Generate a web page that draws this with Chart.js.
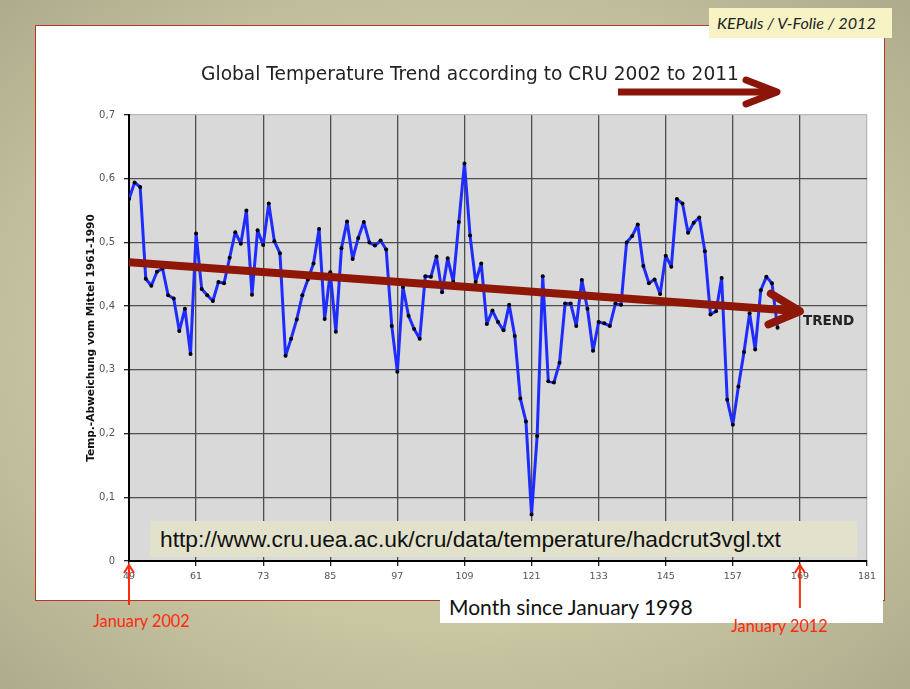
<!DOCTYPE html>
<html>
<head>
<meta charset="utf-8">
<script src="https://cdn.jsdelivr.net/npm/chart.js@4"></script>
<style>
  body {
    margin: 0;
    width: 910px;
    height: 689px;
    overflow: hidden;
    position: relative;
    background: radial-gradient(ellipse 75% 75% at 50% 50%, #d5d3ae 0%, #c9c7a2 55%, #a9a789 100%);
    font-family: Lato, 'DejaVu Sans', sans-serif;
  }
  #panel {
    position: absolute; left: 35px; top: 25px; width: 848px; height: 574px;
    background: #fff; border: 1.5px solid #b5362c;
  }
  #monthBox {
    position: absolute; left: 440px; top: 591px; width: 434px; height: 32px;
    background: #fff; padding-left: 9px;
    font-size: 21px; line-height: 32px; color: #111;
  }
  .jan {
    position: absolute; font-size: 16.3px; color: #ff2a10;
  }
  #myChart { position: absolute; left: 0; top: 0; }
  #urlBox {
    position: absolute; left: 150px; top: 521px; width: 697px; height: 36px;
    background: #e2e2cc; padding-left: 10px;
    font-family: 'Liberation Sans', Arial, sans-serif; font-size: 22.8px; line-height: 37px; color: #111;
  }
  #title {
    position: absolute; left: 0; width: 940px; top: 63px; text-align: center;
    font-family: 'DejaVu Sans', sans-serif; font-size: 18.6px; line-height: 22px; color: #222;
  }
  #tag {
    position: absolute; left: 709px; top: 8px; width: 175px; height: 30px;
    background: #f7f3c4; padding-left: 8px;
    font-style: italic; font-size: 16.2px; line-height: 30px; color: #222;
  }
  #trendLabel {
    position: absolute; left: 803px; top: 312px;
    font-family: 'DejaVu Sans', sans-serif; font-weight: bold; font-size: 13.5px; color: #222;
  }
</style>
</head>
<body>
<div id="panel"></div>
<div id="monthBox">Month since January 1998</div>
<div class="jan" style="left:93px; top:611px;">January 2002</div>
<div class="jan" style="left:731px; top:616px;">January 2012</div>
<canvas id="myChart" width="910" height="689"></canvas>
<div id="urlBox">http://www.cru.uea.ac.uk/cru/data/temperature/hadcrut3vgl.txt</div>
<div id="title">Global Temperature Trend according to CRU 2002 to 2011</div>
<svg style="position:absolute; left:0; top:0;" width="910" height="120">
  <line x1="618" y1="92" x2="774" y2="92" stroke="#8b1508" stroke-width="7"/>
  <polyline points="746,80 777,92 746,104" fill="none" stroke="#8b1508" stroke-width="7" stroke-linecap="round" stroke-linejoin="round"/>
</svg>
<div id="tag">KEPuls / V-Folie / 2012</div>
<div id="trendLabel">TREND</div>

<script>
// month 49 = January 2002 (months counted since January 1998)
let firstMonth = 49;
let temps = [
    0.568, 0.594, 0.587, 0.443, 0.432, 0.454, 0.459, 0.417, 0.412, 0.361, 0.396, 0.325,
    0.514, 0.427, 0.417, 0.408, 0.438, 0.436, 0.476, 0.516, 0.498, 0.550, 0.418, 0.519,
    0.496, 0.561, 0.502, 0.483, 0.322, 0.349, 0.379, 0.417, 0.442, 0.467, 0.521, 0.380,
    0.453, 0.360, 0.491, 0.533, 0.474, 0.507, 0.532, 0.500, 0.495, 0.503, 0.489, 0.369,
    0.297, 0.430, 0.385, 0.364, 0.349, 0.447, 0.446, 0.478, 0.422, 0.475, 0.438, 0.532,
    0.624, 0.511, 0.438, 0.467, 0.372, 0.393, 0.375, 0.362, 0.402, 0.353, 0.255, 0.219,
    0.073, 0.196, 0.447, 0.282, 0.280, 0.311, 0.404, 0.404, 0.369, 0.441, 0.396, 0.330,
    0.375, 0.373, 0.369, 0.404, 0.402, 0.500, 0.510, 0.528, 0.463, 0.436, 0.442, 0.419,
    0.479, 0.462, 0.568, 0.561, 0.515, 0.531, 0.539, 0.486, 0.387, 0.392, 0.444, 0.253,
    0.214, 0.274, 0.328, 0.389, 0.332, 0.425, 0.446, 0.436, 0.366
];
let trendMonths = [49, 169];
let trendValues = [0.469, 0.392];
let markerMonths = [49, 169];
let xTicks = [49, 61, 73, 85, 97, 109, 121, 133, 145, 157, 169, 181];
let yTicks = [0, 0.1, 0.2, 0.3, 0.4, 0.5, 0.6, 0.7];

let points = [];
for (let i = 0; i < temps.length; i++) {
    points.push({ x: firstMonth + i, y: temps[i] });
}
let trendPoints = [];
for (let i = 0; i < trendMonths.length; i++) {
    trendPoints.push({ x: trendMonths[i], y: trendValues[i] });
}

let trendRed = '#8e1708';

let slidePlugin = {
    id: 'slide',
    beforeDraw(chart) {
        let a = chart.chartArea;
        let ctx = chart.ctx;
        ctx.save();
        ctx.fillStyle = '#d9d9d9';
        ctx.fillRect(a.left, a.top, a.right - a.left, a.bottom - a.top);
        ctx.restore();
    },
    afterDatasetsDraw(chart) {
        // arrow head on the trend line
        let meta = chart.getDatasetMeta(0);
        let p0 = meta.data[0];
        let p1 = meta.data[meta.data.length - 1];
        let ang = Math.atan2(p1.y - p0.y, p1.x - p0.x);
        let len = 34;
        let spread = 0.47;
        let ctx = chart.ctx;
        ctx.save();
        ctx.strokeStyle = trendRed;
        ctx.lineWidth = 8;
        ctx.lineCap = 'round';
        ctx.lineJoin = 'round';
        ctx.beginPath();
        ctx.moveTo(p1.x - len * Math.cos(ang - spread), p1.y - len * Math.sin(ang - spread));
        ctx.lineTo(p1.x, p1.y);
        ctx.lineTo(p1.x - len * Math.cos(ang + spread), p1.y - len * Math.sin(ang + spread));
        ctx.stroke();
        ctx.restore();
    },
    afterDraw(chart) {
        // red markers for January 2002 / January 2012
        let ctx = chart.ctx;
        let xs = chart.scales.x;
        let bottom = chart.chartArea.bottom;
        ctx.save();
        ctx.strokeStyle = '#ff2a10';
        ctx.lineWidth = 2;
        for (let i = 0; i < markerMonths.length; i++) {
            let x = xs.getPixelForValue(markerMonths[i]);
            let tip = bottom + 4;
            ctx.beginPath();
            ctx.moveTo(x, tip + 40 + i * 3);
            ctx.lineTo(x, tip);
            ctx.stroke();
            ctx.beginPath();
            ctx.moveTo(x - 5, tip + 8);
            ctx.lineTo(x, tip);
            ctx.lineTo(x + 5, tip + 8);
            ctx.stroke();
        }
        ctx.restore();
    }
};

function edgeColor(ctx, edgeValue) {
    if (ctx.tick && Math.abs(ctx.tick.value - edgeValue) < 1e-9) {
        return '#b8b8b8';
    }
    return '#4e4e4e';
}

let ctx = document.getElementById('myChart').getContext('2d');
let myChart = new Chart(ctx, {
    type: 'line',
    data: {
        datasets: [{
            label: 'Trend',
            data: trendPoints,
            borderColor: trendRed,
            borderWidth: 8,
            pointRadius: 0,
            order: 0
        }, {
            label: 'Temp.-Abweichung',
            data: points,
            borderColor: '#1e2cff',
            borderWidth: 3,
            borderJoinStyle: 'round',
            pointRadius: 2,
            pointBackgroundColor: '#000',
            pointBorderWidth: 0,
            tension: 0,
            order: 1
        }]
    },
    options: {
        responsive: false,
        animation: false,
        events: [],
        layout: {
            padding: { left: 81, top: 115, right: 43, bottom: 98 }
        },
        plugins: {
            legend: { display: false },
            tooltip: { enabled: false }
        },
        scales: {
            x: {
                type: 'linear',
                min: 49,
                max: 181,
                afterBuildTicks(scale) {
                    scale.ticks = xTicks.map(v => ({ value: v }));
                },
                afterFit(scale) {
                    scale.height = 30;
                },
                grid: {
                    color: ctx => edgeColor(ctx, 181),
                    lineWidth: 1.3,
                    tickLength: 5,
                    tickColor: '#222'
                },
                border: { display: true, color: '#000', width: 2 },
                ticks: {
                    color: '#555',
                    padding: 5,
                    maxRotation: 0,
                    autoSkip: false,
                    font: { family: 'DejaVu Sans', size: 9.5 }
                }
            },
            y: {
                min: 0,
                max: 0.7,
                afterBuildTicks(scale) {
                    scale.ticks = yTicks.map(v => ({ value: v }));
                },
                afterFit(scale) {
                    scale.width = 48;
                },
                grid: {
                    color: ctx => edgeColor(ctx, 0.7),
                    lineWidth: 1.3,
                    tickLength: 5,
                    tickColor: '#222'
                },
                border: { display: true, color: '#000', width: 2 },
                ticks: {
                    color: '#555',
                    padding: 9,
                    autoSkip: false,
                    font: { family: 'DejaVu Sans', size: 10 },
                    callback: v => v === 0 ? '0' : v.toFixed(1).replace('.', ',')
                },
                title: {
                    display: true,
                    text: 'Temp.-Abweichung vom Mittel 1961-1990',
                    color: '#111',
                    padding: { top: 4, bottom: 0 },
                    font: { family: 'DejaVu Sans', size: 10.6, weight: 'bold' }
                }
            }
        }
    },
    plugins: [slidePlugin]
});
</script>
</body>
</html>
